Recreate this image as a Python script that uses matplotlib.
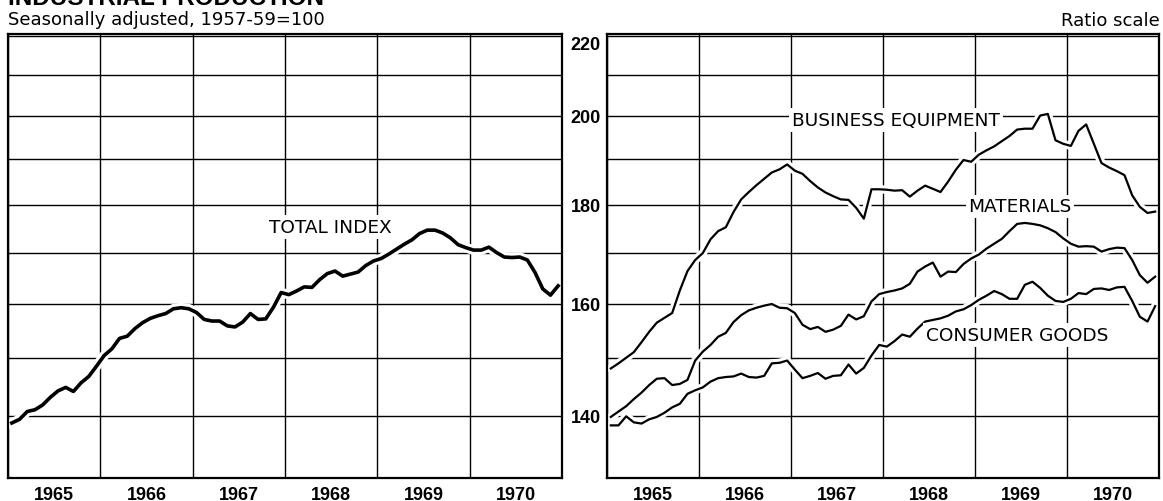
import numpy as np
import matplotlib.pyplot as plt
import matplotlib.patheffects as pe
from matplotlib.ticker import FixedLocator, FixedFormatter, NullLocator

# monthly index values, Jan 1965 - Dec 1970 (1957-59=100)
total_index = [138.8, 139.4, 140.7, 141.0, 141.8, 143.1, 144.2, 144.8, 144.1, 145.6, 146.7, 148.5,
               150.4, 151.6, 153.5, 153.9, 155.3, 156.4, 157.2, 157.7, 158.1, 159.0, 159.2, 159.0,
               158.3, 157.0, 156.7, 156.7, 155.8, 155.6, 156.5, 158.1, 157.0, 157.1, 159.3, 162.1,
               161.7, 162.4, 163.2, 163.1, 164.6, 165.8, 166.3, 165.3, 165.7, 166.1, 167.4, 168.3,
               168.8, 169.7, 170.7, 171.7, 172.6, 173.9, 174.6, 174.6, 174.0, 173.0, 171.6, 171.0,
               170.5, 170.5, 171.1, 170.0, 169.1, 169.0, 169.1, 168.5, 166.0, 162.8, 161.6, 163.4]

business_equipment = [148.1, 149.0, 150.0, 151.0, 152.8, 154.7, 156.4, 157.3, 158.2, 162.5, 166.3, 168.5,
                      169.9, 172.7, 174.4, 175.2, 178.4, 181.1, 182.7, 184.2, 185.6, 187.0, 187.7, 188.8,
                      187.4, 186.7, 185.1, 183.7, 182.6, 181.8, 181.1, 181.0, 179.3, 177.0, 183.3, 183.3,
                      183.2, 183.0, 183.1, 181.7, 183.0, 184.1, 183.4, 182.7, 185.0, 187.6, 189.8, 189.4,
                      191.0, 192.0, 192.9, 194.1, 195.3, 196.8, 197.0, 197.0, 200.1, 200.5, 194.3, 193.5,
                      193.0, 196.5, 198.0, 193.5, 189.1, 188.1, 187.3, 186.4, 182.0, 179.5, 178.2, 178.5]

materials = [139.8, 140.7, 141.6, 142.8, 143.9, 145.2, 146.3, 146.4, 145.2, 145.4, 146.1, 149.5,
             151.1, 152.3, 153.8, 154.5, 156.5, 157.8, 158.7, 159.2, 159.6, 159.9, 159.2, 159.1,
             158.2, 156.0, 155.2, 155.6, 154.7, 155.1, 155.8, 157.9, 157.0, 157.6, 160.4, 161.8,
             162.2, 162.5, 162.9, 163.8, 166.2, 167.2, 168.0, 165.2, 166.2, 166.1, 167.7, 168.8,
             169.6, 170.8, 171.8, 172.8, 174.4, 175.9, 176.1, 175.9, 175.6, 175.0, 174.2, 172.9,
             171.8, 171.2, 171.3, 171.2, 170.2, 170.7, 171.0, 170.9, 168.5, 165.5, 164.0, 165.2]

consumer_goods = [138.4, 138.4, 139.9, 138.9, 138.7, 139.4, 139.8, 140.5, 141.4, 142.0, 143.7, 144.3,
                  144.8, 145.8, 146.4, 146.6, 146.7, 147.2, 146.6, 146.5, 146.8, 149.0, 149.1, 149.5,
                  147.9, 146.4, 146.8, 147.3, 146.3, 146.8, 146.9, 148.8, 147.2, 148.2, 150.4, 152.3,
                  152.0, 153.0, 154.2, 153.8, 155.3, 156.6, 156.9, 157.2, 157.7, 158.5, 158.9, 159.7,
                  160.7, 161.5, 162.4, 161.8, 160.9, 160.9, 163.6, 164.2, 163.0, 161.5, 160.5, 160.3,
                  160.9, 162.0, 161.8, 162.8, 162.9, 162.6, 163.1, 163.2, 160.5, 157.5, 156.6, 159.5]

years = [1965, 1966, 1967, 1968, 1969, 1970]
grid_values = [140, 150, 160, 170, 180, 190, 200, 210, 220]
value_labels = ['140', '', '160', '', '180', '', '200', '', '220']

months = years[0] + (np.arange(len(total_index)) + 0.5) / 12

W, H = 1163, 502
fig = plt.figure(figsize=(W / 100, H / 100), dpi=100)
ax1 = fig.add_axes([8 / W, 1 - 479 / H, 554 / W, 444 / H])
ax2 = fig.add_axes([607 / W, 1 - 479 / H, 552 / W, 444 / H])

label_font = dict(family='DejaVu Sans', size=13.3)
num_font = dict(family='Liberation Sans', weight='bold', size=13)

for ax in (ax1, ax2):
    ax.set_yscale('log')
    ax.set_ylim(130, 220.5)
    ax.set_xlim(years[0], years[-1] + 1)
    ax.yaxis.set_major_locator(FixedLocator(grid_values))
    ax.yaxis.set_minor_locator(NullLocator())
    ax.xaxis.set_major_locator(FixedLocator(list(years) + [years[-1] + 1]))
    ax.xaxis.set_major_formatter(FixedFormatter([''] * (len(years) + 1)))
    ax.xaxis.set_minor_locator(FixedLocator([y + 0.5 for y in years]))
    ax.xaxis.set_minor_formatter(FixedFormatter([str(y) for y in years]))
    ax.tick_params(axis='x', which='both', length=0, pad=6)
    for t in ax.get_xticklabels(minor=True):
        t.set_fontproperties(num_font)
    ax.grid(True, which='major', color='black', lw=1.0)
    for s in ax.spines.values():
        s.set_linewidth(1.6)
    ax.set_axisbelow(True)

ax1.tick_params(axis='y', length=0, labelleft=False)
ax2.yaxis.set_major_formatter(FixedFormatter(value_labels))
ax2.tick_params(axis='y', length=0, pad=15.5)
for t in ax2.get_yticklabels():
    t.set_fontproperties(num_font)
    t.set_ha('center')
ax2.get_yticklabels()[-1].set_va('top')

halo = [pe.Stroke(linewidth=6, foreground='white'), pe.Normal()]
ax1.plot(months, total_index, color='black', lw=2.6, solid_joinstyle='round',
         path_effects=[pe.Stroke(linewidth=7, foreground='white'), pe.Normal()])
for series in (business_equipment, materials, consumer_goods):
    ax2.plot(months, series, color='black', lw=1.6, solid_joinstyle='round',
             path_effects=halo)

box = dict(facecolor='white', edgecolor='none', pad=2)
ax1.text(1968.49, 175.3, 'TOTAL INDEX', ha='center', va='center', bbox=box, **label_font)
ax2.text(1968.14, 199.0, 'BUSINESS EQUIPMENT', ha='center', va='center', bbox=box, **label_font)
ax2.text(1969.49, 179.6, 'MATERIALS', ha='center', va='center', bbox=box, **label_font)
ax2.text(1969.46, 154.1, 'CONSUMER GOODS', ha='center', va='center', bbox=box, **label_font)

# chart heading, cut off at the top edge as in the source page
fig.text(8 / W, 1 - 5 / H, 'INDUSTRIAL PRODUCTION', ha='left', va='baseline',
         family='Liberation Sans', weight='bold', size=17.5)
fig.text(8 / W, 1 - 25 / H, 'Seasonally adjusted, 1957-59=100', ha='left', va='baseline',
         family='DejaVu Sans', size=13)
fig.text(1160 / W, 1 - 26 / H, 'Ratio scale', ha='right', va='baseline',
         family='DejaVu Sans', size=13)

fig.savefig('out.png', dpi=100, facecolor='white')
